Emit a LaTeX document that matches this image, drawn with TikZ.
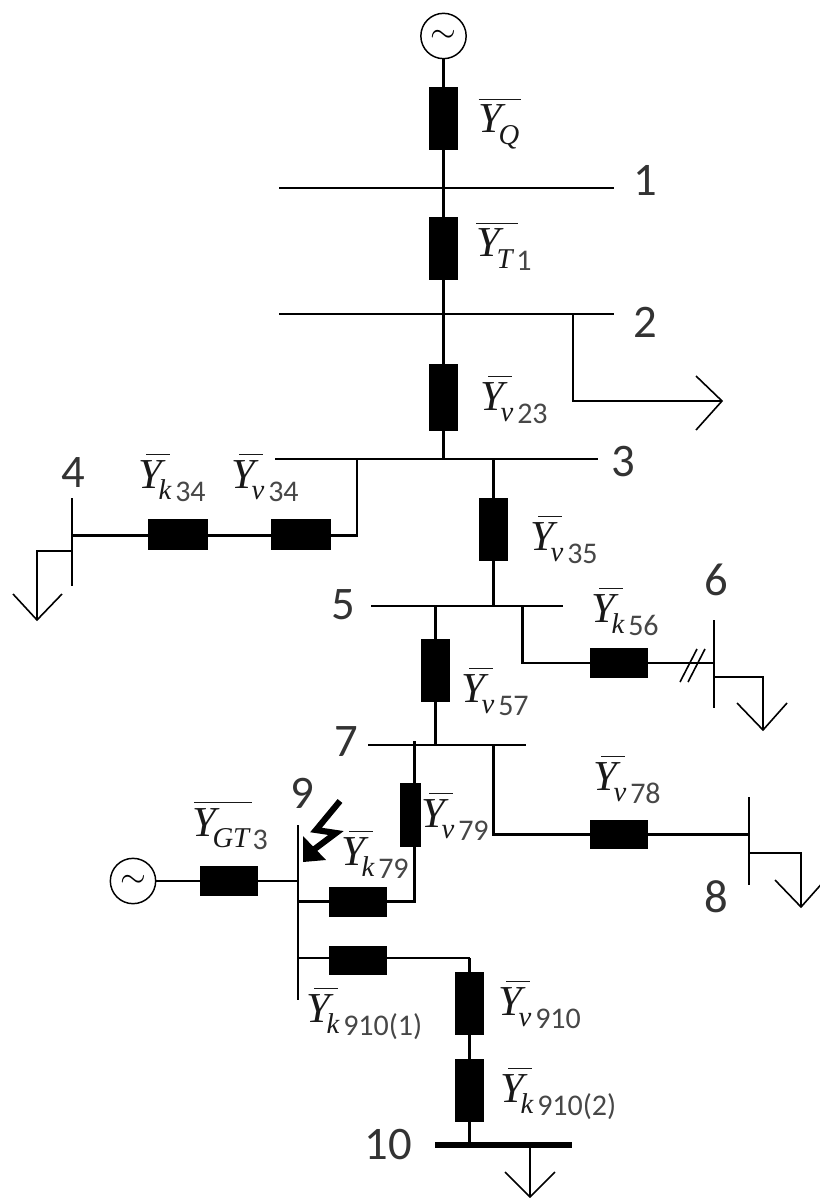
\documentclass[tikz,border=0pt]{standalone}
\usepackage{fontspec}
\setmainfont{Liberation Serif}
\newfontfamily\numf{Carlito}
% args: subscript, digits, rule kern (pt), rule width (pt), kern before digits
\newcommand{\Ylab}[5]{\hbox{\kern-1.5pt\rlap{\kern#3pt\raisebox{24.6pt}{\rule{#4pt}{1.2pt}}}{\fontsize{32}{32}\selectfont\itshape Y}\kern-2.4pt\raisebox{-8.5pt}{\fontsize{21.5}{22}\selectfont\itshape #1}\kern#5pt\raisebox{-10pt}{\fontsize{22.5}{23}\selectfont\numf\color{black!72}#2}}}
\newcommand{\Ys}[2]{\Ylab{#1}{#2}{6}{18}{3}}
\tikzset{
  x=0.75pt,y=-0.75pt,
  wire/.style={draw=black,line width=1.6pt},
  thickbus/.style={draw=black,line width=4pt},
  vbox/.style={draw=none,fill=black,minimum width=21.7pt,minimum height=47.5pt,inner sep=0pt},
  tallbox/.style={vbox,minimum height=50pt},
  hbox/.style={draw=none,fill=black,minimum width=43.5pt,minimum height=22pt,inner sep=0pt},
  widebox/.style={hbox,minimum width=45pt,minimum height=23.2pt},
  narrowbox/.style={draw=none,fill=black,minimum width=15.7pt,minimum height=48pt,inner sep=0pt},
  gensrc/.style={circle,draw=black,line width=1.1pt,minimum size=34pt,inner sep=0pt,fill=white,font=\fontsize{23}{23}\selectfont},
  busnum/.style={font=\fontsize{35}{35}\selectfont\numf,text=black!80,inner sep=0pt},
  ylab/.style={anchor=base west,inner sep=0pt,outer sep=0pt,text=black!90},
  tiplines/.style={draw=black,line width=1.2pt}
}
\begin{document}
\begin{tikzpicture}
\useasboundingbox (0,0) rectangle (819,1198);
% top chain
\node[gensrc] (g1) at (443.5,36) {$\sim$};
\node[vbox] (bq) at (443.5,118.5) {};
\node[vbox] (bt) at (443.5,248.5) {};
\node[tallbox] (b23) at (443.5,397.5) {};
\coordinate (b1l) at (279,188); \coordinate (b1r) at (614,188);
\coordinate (b2l) at (279,314); \coordinate (b2r) at (614,314);
\coordinate (b3l) at (275,459); \coordinate (b3r) at (598,459);
\coordinate (j3m) at (443.5,459);
\draw[wire] (b1l) -- (b1r);
\draw[wire] (b2l) -- (b2r);
\draw[wire] (b3l) -- (b3r);
\draw[wire] (g1) -- (bq);
\draw[wire] (bq) -- (bt);
\draw[wire] (bt) -- (b23);
\draw[wire] (b23) -- (j3m);
% load at bus 2
\coordinate (j2) at (572.6,314); \coordinate (c2) at (572.6,401); \coordinate (t2) at (722,401);
\coordinate (t2a) at (696,376); \coordinate (t2b) at (696,430);
\draw[wire] (j2) -- (c2) -- (t2);
\draw[tiplines] (t2a) -- (t2) -- (t2b);
% bus 4 branch
\coordinate (j3a) at (357,459); \coordinate (c3a) at (357,535.5);
\node[widebox] (bv34) at (301,534.5) {};
\node[widebox] (bk34) at (177.5,534.5) {};
\coordinate (b4t) at (72,498); \coordinate (b4b) at (72,586); \coordinate (j4) at (72,535.5);
\draw[wire] (j3a) -- (c3a) -- (j4);
\draw[wire] (b4t) -- (b4b);
\node[widebox] at (bv34) {};
\node[widebox] at (bk34) {};
\coordinate (l4a) at (72,551); \coordinate (l4b) at (37,551); \coordinate (l4c) at (37,620);
\coordinate (l4d) at (13,594); \coordinate (l4e) at (62,594);
\draw[wire] (l4a) -- (l4b) -- (l4c);
\draw[tiplines] (l4d) -- (l4c) -- (l4e);
% bus 5
\coordinate (j3b) at (493.5,459); \coordinate (j5a) at (493.5,606);
\node[vbox] (b35) at (493.5,529.5) {};
\coordinate (b5l) at (371,606); \coordinate (b5r) at (563,606);
\draw[wire] (b5l) -- (b5r);
\draw[wire] (j3b) -- (b35);
\draw[wire] (b35) -- (j5a);
% bus 6
\coordinate (j5b) at (522.5,606); \coordinate (c5) at (522.5,663);
\node[hbox] (b56) at (619,663) {};
\coordinate (j6) at (714,663); \coordinate (b6t) at (714,620); \coordinate (b6b) at (714,708);
\draw[wire] (j5b) -- (c5) -- (b56);
\draw[wire] (b56) -- (j6);
\draw[wire] (b6t) -- (b6b);
\coordinate (s1a) at (680,682); \coordinate (s1b) at (697,649);
\coordinate (s2a) at (688,682); \coordinate (s2b) at (705,649);
\draw[tiplines] (s1a) -- (s1b);
\draw[tiplines] (s2a) -- (s2b);
\coordinate (l6a) at (714,677); \coordinate (l6b) at (763,677); \coordinate (l6c) at (763,730);
\coordinate (l6d) at (737,703); \coordinate (l6e) at (787,703);
\draw[wire] (l6a) -- (l6b) -- (l6c);
\draw[tiplines] (l6d) -- (l6c) -- (l6e);
% bus 7
\coordinate (j5c) at (435.5,606); \coordinate (j7a) at (435.5,745);
\node[vbox] (b57) at (435.5,670.5) {};
\coordinate (b7l) at (368,745); \coordinate (b7r) at (526,745);
\draw[wire] (b7l) -- (b7r);
\draw[wire] (j5c) -- (b57);
\draw[wire] (b57) -- (j7a);
% bus 8
\coordinate (j7b) at (493.5,745); \coordinate (c7) at (493.5,834.5);
\node[hbox] (b78) at (619,834.5) {};
\coordinate (j8) at (749,834.5); \coordinate (b8t) at (749,797); \coordinate (b8b) at (749,885);
\draw[wire] (j7b) -- (c7) -- (b78);
\draw[wire] (b78) -- (j8);
\draw[wire] (b8t) -- (b8b);
\coordinate (l8a) at (749,853); \coordinate (l8b) at (801,853); \coordinate (l8c) at (801,907);
\coordinate (l8d) at (775,880); \coordinate (l8e) at (825,880);
\draw[wire] (l8a) -- (l8b) -- (l8c);
\draw[tiplines] (l8d) -- (l8c) -- (l8e);
% bus 9
\coordinate (j7c) at (414.5,741); \coordinate (c79) at (414.5,901.5);
\coordinate (j9a) at (298,901.5);
\coordinate (b9t) at (298,825); \coordinate (b9b) at (298,1000);
\draw[wire] (b9t) -- (b9b);
\draw[wire] (j7c) -- (c79) -- (j9a);
\node[narrowbox] (b79) at (410.5,815) {};
\node[hbox] (bk79) at (358,902) {};
\node[gensrc] (g2) at (133,881) {$\sim$};
\node[hbox] (bg3) at (229,881) {};
\coordinate (j9g) at (298,881);
\draw[wire] (g2) -- (bg3);
\draw[wire] (bg3) -- (j9g);
\coordinate (j9c) at (298,958.3); \coordinate (c9) at (469.5,958.3);
\draw[wire] (j9c) -- (c9);
\node[hbox] (bk910a) at (358,960.5) {};
\node[vbox] (bv910) at (469.5,1003.5) {};
\node[vbox] (bk910b) at (469.5,1090.5) {};
\coordinate (j10) at (469.5,1144);
\draw[wire] (c9) -- (bv910);
\draw[wire] (bv910) -- (bk910b);
\draw[wire] (bk910b) -- (j10);
% bus 10
\coordinate (b10l) at (435,1145); \coordinate (b10r) at (572,1145);
\draw[thickbus] (b10l) -- (b10r);
\coordinate (l10a) at (530,1145); \coordinate (l10b) at (530,1197);
\coordinate (l10d) at (505,1172); \coordinate (l10e) at (555,1172);
\draw[wire] (l10a) -- (l10b);
\draw[tiplines] (l10d) -- (l10b) -- (l10e);
% lightning
\coordinate (z1) at (340,801); \coordinate (z2) at (316,830); \coordinate (z3) at (336,833); \coordinate (z4) at (312,851);
\draw[draw=black,line width=4.6pt,line join=miter] (z1) -- (z2) -- (z3) -- (z4);
\fill[black] (303,836) -- (303,862) -- (326,860) -- cycle;
% bus numbers
\node[busnum] at (645,180) {1};
\node[busnum] at (645,322) {2};
\node[busnum] at (623,462) {3};
\node[busnum] at (73,473) {4};
\node[busnum] at (343,605) {5};
\node[busnum] at (716,580) {6};
\node[busnum] at (346,742) {7};
\node[busnum] at (716,897) {8};
\node[busnum] at (302,793) {9};
\node[busnum] at (388,1145) {10};
% labels
\node[ylab] at (480,133) {\Ylab{Q}{}{0.5}{31.5}{0}};
\node[ylab] at (478,257) {\Ylab{T}{1}{0}{31.5}{3}};
\node[ylab] at (482,410) {\Ys{v}{23}};
\node[ylab] at (140,488) {\Ys{k}{34}};
\node[ylab] at (233,488) {\Ys{v}{34}};
\node[ylab] at (532,550) {\Ys{v}{35}};
\node[ylab] at (593,622) {\Ys{k}{56}};
\node[ylab] at (463,702) {\Ys{v}{57}};
\node[ylab] at (595,790) {\Ys{v}{78}};
\node[ylab] at (423,827) {\Ys{v}{79}};
\node[ylab] at (343,865) {\Ys{k}{79}};
\node[ylab] at (194,836) {\Ylab{GT}{3}{1.5}{43.5}{2.5}};
\node[ylab] at (308,1022) {\Ys{k}{910(1)}};
\node[ylab] at (500,1015) {\Ys{v}{910}};
\node[ylab] at (502,1102) {\Ys{k}{910(2)}};
\end{tikzpicture}
\end{document}
